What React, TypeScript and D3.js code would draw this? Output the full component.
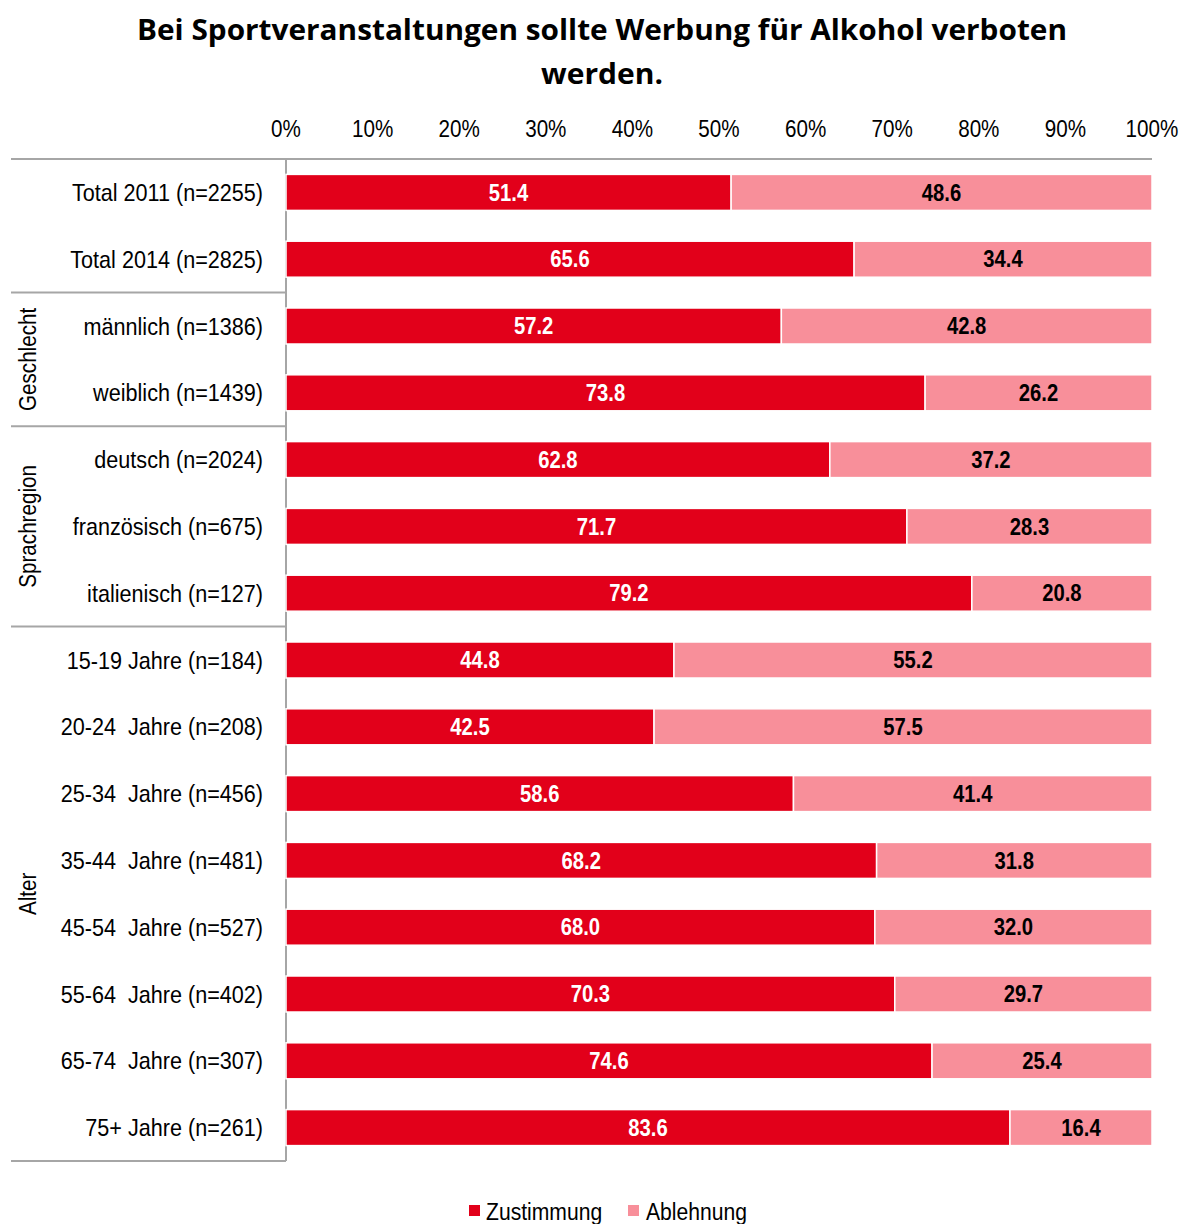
import React from "react";
import * as d3 from "d3";

const categories = [
  "Total 2011 (n=2255)",
  "Total 2014 (n=2825)",
  "männlich (n=1386)",
  "weiblich (n=1439)",
  "deutsch (n=2024)",
  "französisch (n=675)",
  "italienisch (n=127)",
  "15-19 Jahre (n=184)",
  "20-24  Jahre (n=208)",
  "25-34  Jahre (n=456)",
  "35-44  Jahre (n=481)",
  "45-54  Jahre (n=527)",
  "55-64  Jahre (n=402)",
  "65-74  Jahre (n=307)",
  "75+ Jahre (n=261)",
];
const zustimmung = [51.4, 65.6, 57.2, 73.8, 62.8, 71.7, 79.2, 44.8, 42.5, 58.6, 68.2, 68.0, 70.3, 74.6, 83.6];
const ablehnung = [48.6, 34.4, 42.8, 26.2, 37.2, 28.3, 20.8, 55.2, 57.5, 41.4, 31.8, 32.0, 29.7, 25.4, 16.4];
const groups = [
  { name: "", start: 0, end: 1 },
  { name: "Geschlecht", start: 2, end: 3 },
  { name: "Sprachregion", start: 4, end: 6 },
  { name: "Alter", start: 7, end: 14 },
];
const ticks = [0, 10, 20, 30, 40, 50, 60, 70, 80, 90, 100];
const seriesNames = ["Zustimmung", "Ablehnung"];
const colors = ["#E2001A", "#F88F9A"];

const W = 1182;
const H = 1224;
const FONT = "'Liberation Sans', Arial, sans-serif";
const SX = 0.86;

function NText(props: {
  x: number;
  y: number;
  rotate?: number;
  anchor?: "start" | "middle" | "end";
  size?: number;
  bold?: boolean;
  fill?: string;
  sx?: number;
  dy?: string;
  children: React.ReactNode;
}) {
  const { x, y, rotate = 0, anchor = "start", size = 24, bold = false, fill = "#000", sx = SX, dy } = props;
  return (
    <text
      transform={`translate(${x},${y}) rotate(${rotate}) scale(${sx},1)`}
      textAnchor={anchor}
      fontFamily={FONT}
      fontSize={size}
      fontWeight={bold ? "bold" : "normal"}
      fill={fill}
      dy={dy}
      style={{ whiteSpace: "pre" }}
    >
      {props.children}
    </text>
  );
}

export default function App() {
  const x = d3.scaleLinear().domain([0, 100]).range([286, 1152]);
  const y = d3
    .scaleBand<string>()
    .domain(categories)
    .range([159, 1161])
    .paddingInner(0.461)
    .paddingOuter(0.2305);
  const step = y.step();
  const bw = y.bandwidth();
  const top = 159;
  const bottom = 1161;
  const boundaryY = (i: number) => (y(categories[i]) as number) - (step - bw) / 2;

  return (
    <svg width={W} height={H} style={{ position: "absolute", left: 0, top: 0, background: "#fff" }}>
      <g fontFamily="'Open Sans', sans-serif" fontWeight="bold" fontSize={29} textAnchor="middle" fill="#000">
        <text x={602} y={40} textLength={930} lengthAdjust="spacingAndGlyphs">
          Bei Sportveranstaltungen sollte Werbung für Alkohol verboten
        </text>
        <text x={602} y={84} textLength={122} lengthAdjust="spacingAndGlyphs">werden.</text>
      </g>
      {/* top ticks */}
      {ticks.map((t) => (
        <NText key={t} x={x(t)} y={137} anchor="middle">{`${t}%`}</NText>
      ))}
      {/* axis lines */}
      <line x1={11} x2={x(100)} y1={top} y2={top} stroke="#a6a6a6" strokeWidth={2} />
      <line x1={x(0)} x2={x(0)} y1={top} y2={bottom} stroke="#a6a6a6" strokeWidth={2} />
      <line x1={11} x2={x(0)} y1={bottom} y2={bottom} stroke="#a6a6a6" strokeWidth={2} />
      {groups.slice(1).map((g) => (
        <line key={g.name} x1={11} x2={x(0)} y1={boundaryY(g.start)} y2={boundaryY(g.start)} stroke="#a6a6a6" strokeWidth={2} />
      ))}
      {/* group labels */}
      {groups.filter((g) => g.name).map((g) => {
        const cy = ((y(categories[g.start]) as number) + (y(categories[g.end]) as number) + bw) / 2;
        return (
          <NText key={g.name} x={36} y={cy} rotate={-90} anchor="middle">{g.name}</NText>
        );
      })}
      {/* category labels */}
      {categories.map((c) => (
        <NText key={c} x={263} y={(y(c) as number) + bw / 2} dy="0.36em" anchor="end" sx={0.9}>{c}</NText>
      ))}
      {/* bars */}
      {categories.map((c, i) => {
        const yy = y(c) as number;
        const z = zustimmung[i];
        const a = ablehnung[i];
        return (
          <g key={c}>
            <rect x={x(0)} y={yy} width={x(z) - x(0)} height={bw} fill={colors[0]} stroke="#fff" strokeWidth={1.5} />
            <rect x={x(z)} y={yy} width={x(z + a) - x(z)} height={bw} fill={colors[1]} stroke="#fff" strokeWidth={1.5} />
            <NText x={(x(0) + x(z)) / 2} y={yy + bw / 2} dy="0.36em" anchor="middle" bold size={23} sx={0.88} fill="#fff">
              {z.toFixed(1)}
            </NText>
            <NText x={(x(z) + x(z + a)) / 2} y={yy + bw / 2} dy="0.36em" anchor="middle" bold size={23} sx={0.88} fill="#000">
              {a.toFixed(1)}
            </NText>
          </g>
        );
      })}
      {/* legend */}
      <rect x={469} y={1205} width={11} height={11} fill={colors[0]} />
      <NText x={486} y={1220} sx={0.88}>{seriesNames[0]}</NText>
      <rect x={628} y={1205} width={11} height={11} fill={colors[1]} />
      <NText x={646} y={1220} sx={0.88}>{seriesNames[1]}</NText>
    </svg>
  );
}
